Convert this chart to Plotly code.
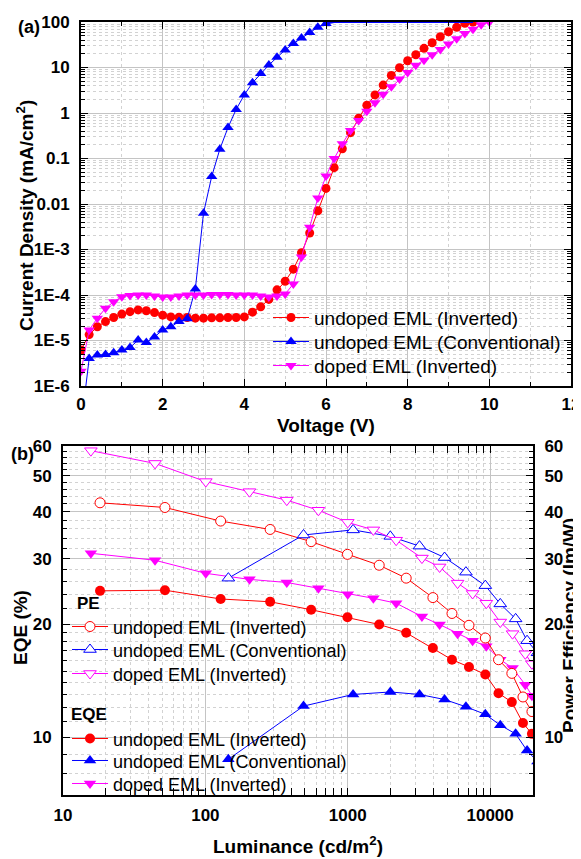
import plotly.graph_objects as go

# The page body keeps its default 8 px margin, so the figure is laid out
# in reference-pixel coordinates shifted by OFF.
OFF = 8
W, H = 581 - OFF, 859 - OFF
FONT = "Liberation Sans, Arial, sans-serif"
RED, BLUE, MAG = "#ff0000", "#0000ff", "#ff00ff"

# ---------------- (a) J-V data ----------------
V_red = [0.0, 0.2, 0.4, 0.6, 0.8, 1.0, 1.2, 1.4, 1.6, 1.8, 2.0, 2.2, 2.4, 2.6, 2.8, 3.0,
         3.2, 3.4, 3.6, 3.8, 4.0, 4.2, 4.4, 4.6, 4.8, 5.0, 5.2, 5.4, 5.6, 5.8, 6.0, 6.2,
         6.4, 6.6, 6.8, 7.0, 7.2, 7.4, 7.6, 7.8, 8.0, 8.2, 8.4, 8.6, 8.8, 9.0, 9.2, 9.4, 9.6]
J_red = [6.2e-6, 1.35e-5, 2.0e-5, 2.6e-5, 3.2e-5, 3.8e-5, 4.3e-5, 4.7e-5, 4.5e-5, 4.1e-5,
         3.6e-5, 3.3e-5, 3.25e-5, 3.2e-5, 3.1e-5, 3.1e-5, 3.15e-5, 3.15e-5, 3.2e-5, 3.2e-5,
         3.3e-5, 4.2e-5, 5.5e-5, 8.0e-5, 1.3e-4, 2.0e-4, 3.7e-4, 8.5e-4, 2.3e-3, 7.1e-3,
         0.022, 0.063, 0.164, 0.37, 0.77, 1.48, 2.5, 4.1, 6.7, 9.9, 14.1, 19.1, 26.4, 35.0,
         47.5, 61.0, 76.5, 93.6, 100.0]

V_blue = [0.0, 0.2, 0.4, 0.6, 0.8, 1.0, 1.2, 1.4, 1.6, 1.8, 2.0, 2.2, 2.4, 2.6, 2.8, 3.0,
          3.2, 3.4, 3.6, 3.8, 4.0, 4.2, 4.4, 4.6, 4.8, 5.0, 5.2, 5.4, 5.6, 5.8, 6.0,
          6.2, 6.4, 6.6, 6.8, 7.0, 7.2, 7.4, 7.6, 7.8, 8.0, 8.2, 8.4, 8.6, 8.8, 9.0, 9.2, 9.4, 9.6]
J_blue = [1.3e-7, 4.0e-6, 4.8e-6, 4.9e-6, 5.4e-6, 6.2e-6, 7.0e-6, 1.02e-5, 9.0e-6, 1.2e-5,
          1.7e-5, 2.0e-5, 2.6e-5, 3.0e-5, 1.35e-4, 6.3e-3, 0.04, 0.16, 0.48, 1.2, 2.5, 4.6,
          7.4, 11.3, 16.7, 24.3, 33.5, 44.4, 59.0, 76.5, 93.0,
          100, 100, 100, 100, 100, 100, 100, 100, 100, 100, 100, 100, 100, 100, 100, 100, 100, 100]

V_mag = [0.0, 0.2, 0.4, 0.6, 0.8, 1.0, 1.2, 1.4, 1.6, 1.8, 2.0, 2.2, 2.4, 2.6, 2.8, 3.0,
         3.2, 3.4, 3.6, 3.8, 4.0, 4.2, 4.4, 4.6, 4.8, 5.0, 5.2, 5.4, 5.6, 5.8, 6.0, 6.2,
         6.4, 6.6, 6.8, 7.0, 7.2, 7.4, 7.6, 7.8, 8.0, 8.2, 8.4, 8.6, 8.8, 9.0, 9.2, 9.4,
         9.6, 9.8, 10.0]
J_mag = [2.1e-6, 1.7e-5, 3.1e-5, 5.1e-5, 7.1e-5, 9.2e-5, 9.8e-5, 1.0e-4, 1.0e-4, 9.5e-5,
         9.0e-5, 9.0e-5, 9.5e-5, 1.0e-4, 1.0e-4, 1.0e-4, 1.02e-4, 1.02e-4, 1.02e-4, 1.0e-4,
         1.0e-4, 1.0e-4, 9.5e-5, 9.0e-5, 9.5e-5, 1.05e-4, 1.75e-4, 6.8e-4, 3.1e-3, 0.0135,
         0.041, 0.10, 0.21, 0.41, 0.68, 1.09, 1.68, 2.58, 3.78, 5.6, 7.8, 11.2, 14.4, 19.1,
         25.0, 33.0, 43.0, 56.0, 69.0, 87.0, 100.0]

J_ticks = [1e-6, 1e-5, 1e-4, 1e-3, 0.01, 0.1, 1, 10, 100]
J_ticktext = ["1E-6", "1E-5", "1E-4", "1E-3", "0.01", "0.1", "1", "10", "100"]
V_ticks = [0, 2, 4, 6, 8, 10, 12]

# ---------------- (b) efficiency data ----------------
L_inv = [18.2, 52, 128, 285, 553, 995, 1663, 2573, 3962, 5395, 7100, 9250, 11450, 14200, 17000, 19660]
PE_inv = [42.3, 41.1, 37.8, 35.9, 33.3, 30.8, 28.8, 26.6, 23.6, 21.4, 19.9, 18.4, 16.1, 14.8, 12.8, 11.7]
EQE_inv = [24.6, 24.7, 23.4, 23.0, 21.9, 20.9, 20.0, 19.0, 17.3, 16.1, 15.4, 14.7, 13.1, 12.4, 10.9, 10.2]

L_conv = [145, 489, 1090, 1990, 3190, 4785, 6760, 9250, 11780, 15100, 18170, 21500]
PE_conv = [26.6, 34.7, 35.8, 34.4, 32.4, 30.2, 27.6, 25.4, 22.7, 20.7, 18.1, 16.8]
EQE_conv = [8.72, 12.1, 13.0, 13.2, 13.0, 12.6, 12.05, 11.5, 10.76, 10.2, 9.2, 8.6]

L_dop = [15.7, 44.3, 100.7, 204, 373, 622, 1000, 1513, 2188, 3318, 4415, 5906, 7530, 9400,
         11780, 14370, 17660, 19660]
PE_dop = [58.3, 53.9, 48.2, 45.3, 43.0, 40.4, 37.5, 35.8, 33.6, 30.1, 28.5, 25.8, 24.2, 22.8,
          20.3, 18.9, 16.7, 15.7]
EQE_dop = [31.0, 29.7, 27.4, 26.4, 25.9, 25.0, 24.1, 23.5, 22.8, 21.0, 20.0, 18.9, 18.1, 17.5,
           16.1, 15.3, 13.8, 12.9]

L_ticks = [10, 100, 1000, 10000]
E_ticks = [10, 20, 30, 40, 50, 60]
E_minor = [7, 8, 9, 11, 12, 13, 14, 15, 16, 17, 18, 19, 22, 24, 26, 28,
           32, 34, 36, 38, 42, 44, 46, 48, 52, 54, 56, 58]

labels = ["undoped EML (Inverted)", "undoped EML (Conventional)", "doped EML (Inverted)"]


def px_x(p):
    return (p - OFF) / W


def px_y(p):
    return 1 - (p - OFF) / H


fig = go.Figure()

# ---- (a) traces ----
fig.add_trace(go.Scatter(x=V_red, y=J_red, mode="lines+markers", name=labels[0],
                         line=dict(color=RED, width=1),
                         marker=dict(symbol="circle", size=9, color=RED),
                         xaxis="x", yaxis="y", legend="legend"))
sat = [i for i, j in enumerate(J_blue) if j >= 100]
meas = [i for i, j in enumerate(J_blue) if j < 100]
k0 = meas[-1]
fig.add_trace(go.Scatter(x=[V_blue[k0]] + [V_blue[i] for i in sat],
                         y=[J_blue[k0]] + [J_blue[i] for i in sat],
                         mode="lines", showlegend=False,
                         line=dict(color=BLUE, width=2),
                         xaxis="x", yaxis="y"))
fig.add_trace(go.Scatter(x=[V_blue[i] for i in meas], y=[J_blue[i] for i in meas],
                         mode="lines+markers", name=labels[1],
                         line=dict(color=BLUE, width=1),
                         marker=dict(symbol="triangle-up", size=10, color=BLUE),
                         xaxis="x", yaxis="y", legend="legend2"))
fig.add_trace(go.Scatter(x=V_mag, y=J_mag, mode="lines+markers", name=labels[2],
                         line=dict(color=MAG, width=1),
                         marker=dict(symbol="triangle-down", size=10, color=MAG),
                         xaxis="x", yaxis="y", legend="legend3"))

# ---- (b) traces: PE open symbols (right axis), EQE filled symbols (left axis) ----
pe_series = [(L_inv, PE_inv, RED, "circle", 10), (L_conv, PE_conv, BLUE, "triangle-up", 11),
             (L_dop, PE_dop, MAG, "triangle-down", 11)]
eqe_series = [(L_inv, EQE_inv, RED, "circle", 10), (L_conv, EQE_conv, BLUE, "triangle-up", 11),
              (L_dop, EQE_dop, MAG, "triangle-down", 11)]
for n, (lx, ly, c, sym, sz) in enumerate(pe_series):
    fig.add_trace(go.Scatter(x=lx, y=ly, mode="lines+markers", name=labels[n],
                             line=dict(color=c, width=1),
                             marker=dict(symbol=sym, size=sz, color="white",
                                         line=dict(color=c, width=1)),
                             xaxis="x2", yaxis="y3", legend="legend%d" % (4 + n)))
for n, (lx, ly, c, sym, sz) in enumerate(eqe_series):
    fig.add_trace(go.Scatter(x=lx, y=ly, mode="lines+markers", name=labels[n],
                             line=dict(color=c, width=1),
                             marker=dict(symbol=sym, size=sz, color=c),
                             xaxis="x2", yaxis="y2", legend="legend%d" % (7 + n)))

tickfont = dict(family=FONT, size=17, color="black", weight="bold")
MAJ_GRID = "#c4c4c4"
MIN_GRID = "#d2d2d2"


def minor_log(lo_exp, hi_exp):
    return [k * 10 ** e for e in range(lo_exp, hi_exp) for k in range(2, 10)]


common = dict(showline=True, linewidth=2, linecolor="black", ticks="inside",
              tickcolor="black", tickwidth=1, ticklen=7, tickfont=tickfont,
              gridcolor=MAJ_GRID, gridwidth=1, zeroline=False, automargin=False)


# one legend per entry, so that each row sits where the reference puts it
def leg(xc_marker, yc, size):
    return dict(x=px_x(xc_marker - 20), y=px_y(yc - (5 + 0.65 * size)),
                xanchor="left", yanchor="top", bgcolor="rgba(0,0,0,0)", borderwidth=0,
                itemwidth=36, font=dict(family=FONT, size=size, color="black"))


legends = {}
for n, yc in enumerate([316, 340, 364]):
    legends["legend" if n == 0 else "legend%d" % (n + 1)] = leg(288, yc, 19)
for n, yc in enumerate([625, 648, 672]):
    legends["legend%d" % (4 + n)] = leg(87, yc, 18)
for n, yc in enumerate([737, 759, 782]):
    legends["legend%d" % (7 + n)] = leg(87, yc, 18)

fig.update_layout(
    width=W, height=H, margin=dict(l=0, r=0, t=0, b=0),
    paper_bgcolor="white", plot_bgcolor="white", showlegend=True,
    xaxis=dict(domain=[px_x(81), px_x(571)], anchor="y", range=[0, 12],
               tickvals=V_ticks, mirror="allticks", showgrid=True,
               minor=dict(dtick=1, tick0=0, ticks="inside", ticklen=4, tickcolor="black",
                          showgrid=True, gridcolor=MIN_GRID, griddash="dot"),
               ticklabelstandoff=2, **common),
    yaxis=dict(domain=[px_y(386), px_y(22)], anchor="x", type="log", range=[-6, 2],
               tickvals=J_ticks, ticktext=J_ticktext, mirror="allticks", showgrid=True,
               minor=dict(tickmode="array", tickvals=minor_log(-6, 2), ticks="inside",
                          ticklen=4, tickcolor="black", showgrid=True,
                          gridcolor=MIN_GRID, griddash="dot"),
               ticklabelstandoff=6, **common),
    xaxis2=dict(domain=[px_x(63), px_x(533)], anchor="y2", type="log",
                range=[1, 4.301], tickvals=L_ticks, ticktext=[str(t) for t in L_ticks],
                mirror="allticks", showgrid=True,
                minor=dict(tickmode="array", tickvals=minor_log(1, 5), ticks="inside",
                           ticklen=4, tickcolor="black", showgrid=True,
                           gridcolor=MIN_GRID, griddash="dot"),
                ticklabelstandoff=4, **common),
    yaxis2=dict(domain=[px_y(795), px_y(446)], anchor="x2", type="log",
                range=[0.8451, 1.7782], tickvals=E_ticks, mirror=True, showgrid=True,
                minor=dict(tickmode="array", tickvals=E_minor,
                           ticks="inside", ticklen=4, tickcolor="black", showgrid=True,
                           gridcolor=MIN_GRID, griddash="dot"),
                ticklabelstandoff=6, **common),
    yaxis3=dict(anchor="x2", overlaying="y2", side="right", type="log",
                range=[0.8451, 1.7782], tickvals=E_ticks, showgrid=False,
                minor=dict(tickmode="array", tickvals=E_minor,
                           ticks="inside", ticklen=4, tickcolor="black", showgrid=False),
                ticklabelstandoff=6, **common),
    **legends,
)

ann = [
    ("(a)", 29, 27, 0, 18),
    ("(b)", 22, 454, 0, 18),
    ("Current Density (mA/cm<sup>2</sup>)", 25, 216, -90, 19),
    ("Voltage (V)", 326, 425, 0, 19),
    ("EQE (%)", 20, 628, -90, 19),
    ("Power Efficiency (lm/W)", 569, 626, -90, 19),
    ("Luminance (cd/m<sup>2</sup>)", 298, 845, 0, 19),
    ("PE", 88, 603, 0, 17),
    ("EQE", 89, 714, 0, 17),
]
for text, x, y, ang, fs in ann:
    fig.add_annotation(text=text, x=px_x(x), y=px_y(y), xref="paper", yref="paper",
                       showarrow=False, textangle=ang, xanchor="center", yanchor="middle",
                       font=dict(family=FONT, size=fs, color="black", weight="bold"))

fig.write_html("out.html")
